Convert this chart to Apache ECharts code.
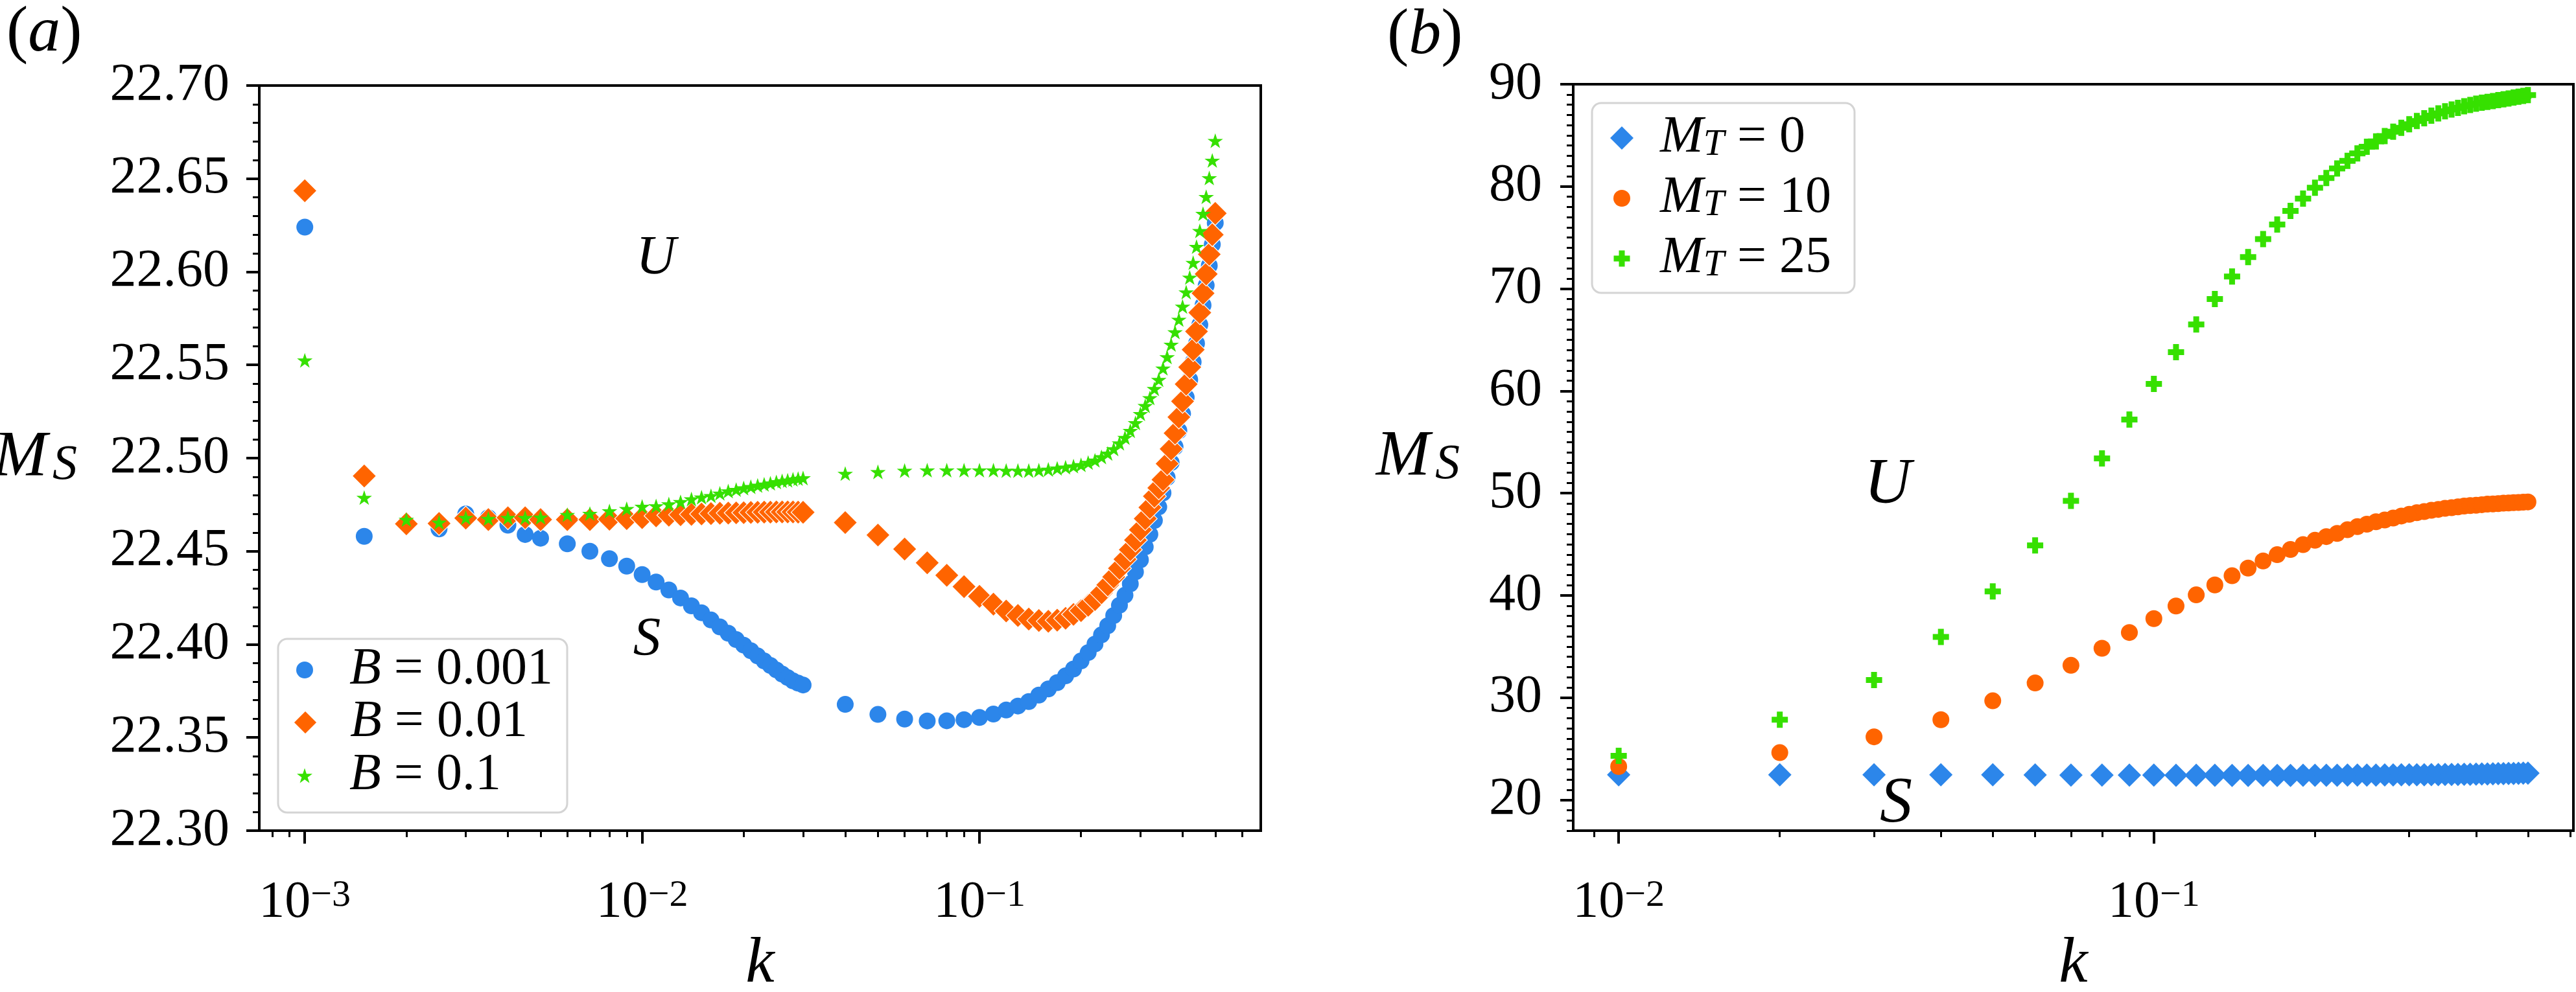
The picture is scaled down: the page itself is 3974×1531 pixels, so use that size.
<!DOCTYPE html>
<html>
<head>
<meta charset="utf-8">
<title>M_S against k</title>
<script src="https://cdn.jsdelivr.net/npm/echarts@6/dist/echarts.min.js"></script>
<style>
  html, body { margin: 0; padding: 0; background: #fff; }
  #chart { width: 3974px; height: 1531px; }
</style>
</head>
<body>
<div id="chart"></div>
<script>
// ---- panel (a): M_S against k for three values of B ----
var kA = [0.001, 0.0015, 0.002, 0.0025, 0.003, 0.0035, 0.004, 0.0045, 0.005,
  0.006, 0.007, 0.008, 0.009,
  0.010, 0.011, 0.012, 0.013, 0.014, 0.015, 0.016, 0.017, 0.018, 0.019, 0.020,
  0.021, 0.022, 0.023, 0.024, 0.025, 0.026, 0.027, 0.028, 0.029, 0.030,
  0.04, 0.05, 0.06, 0.07, 0.08, 0.09,
  0.10, 0.11, 0.12, 0.13, 0.14, 0.15, 0.16, 0.17, 0.18, 0.19, 0.20,
  0.21, 0.22, 0.23, 0.24, 0.25, 0.26, 0.27, 0.28, 0.29, 0.30,
  0.31, 0.32, 0.33, 0.34, 0.35, 0.36, 0.37, 0.38, 0.39, 0.40,
  0.41, 0.42, 0.43, 0.44, 0.45, 0.46, 0.47, 0.48, 0.49, 0.50];

var msB0001 = [22.624, 22.458, 22.465, 22.462, 22.470, 22.468, 22.464, 22.459, 22.457,
  22.454, 22.450, 22.446, 22.442,
  22.4375, 22.4335, 22.4292, 22.4249, 22.4207, 22.4170, 22.4131, 22.4094, 22.4060, 22.4026, 22.3996,
  22.3966, 22.3938, 22.3911, 22.3887, 22.3863, 22.3841, 22.3822, 22.3804, 22.3792, 22.3782,
  22.3678, 22.3624, 22.3599, 22.3589, 22.3590, 22.3596,
  22.3608, 22.3626, 22.3648, 22.3669, 22.3693, 22.3728, 22.3761, 22.3795, 22.3831, 22.3868, 22.3911,
  22.3956, 22.4002, 22.4051, 22.4100, 22.4155, 22.4210, 22.4264, 22.4325, 22.4389, 22.4454,
  22.4523, 22.4591, 22.4665, 22.4738, 22.4813, 22.4896, 22.4976, 22.5061, 22.5147, 22.5238,
  22.5326, 22.5421, 22.5516, 22.5616, 22.5716, 22.5821, 22.5927, 22.6033, 22.6147, 22.6263];

var msB001 = [22.6435, 22.4904, 22.4647, 22.4649, 22.4678, 22.4670, 22.4680, 22.4680, 22.4670,
  22.4670, 22.4670, 22.4672, 22.4675,
  22.4680, 22.4690, 22.4693, 22.4696, 22.4698, 22.4700, 22.4702, 22.4704, 22.4705, 22.4706, 22.4707,
  22.4708, 22.4709, 22.4710, 22.4710, 22.4711, 22.4711, 22.4711, 22.4711, 22.4710, 22.4709,
  22.4654, 22.4587, 22.4512, 22.4438, 22.4371, 22.4310,
  22.4258, 22.4216, 22.4179, 22.4155, 22.4136, 22.4128, 22.4124, 22.4130, 22.4140, 22.4161, 22.4181,
  22.4210, 22.4240, 22.4277, 22.4319, 22.4362, 22.4408, 22.4457, 22.4508, 22.4560, 22.4615,
  22.4675, 22.4735, 22.4795, 22.4840, 22.4884, 22.4970, 22.5049, 22.5134, 22.5220, 22.5305,
  22.5397, 22.5488, 22.5582, 22.5680, 22.5781, 22.5885, 22.5988, 22.6094, 22.6199, 22.6314];

var msB01 = [22.5525, 22.4788, 22.4670, 22.4655, 22.4680, 22.4675, 22.4680, 22.4680, 22.4682,
  22.4696, 22.4702, 22.4716, 22.4728,
  22.4740, 22.4743, 22.4753, 22.4765, 22.4780, 22.4790, 22.4798, 22.4811, 22.4823, 22.4831, 22.4839,
  22.4846, 22.4853, 22.4859, 22.4865, 22.4872, 22.4878, 22.4881, 22.4886, 22.4890, 22.4893,
  22.4917, 22.4926, 22.4933, 22.4935, 22.4935, 22.4935,
  22.4935, 22.4935, 22.4933, 22.4933, 22.4933, 22.4935, 22.4939, 22.4945, 22.4951, 22.4957, 22.4964,
  22.4976, 22.4988, 22.5006, 22.5025, 22.5049, 22.5080, 22.5110, 22.5147, 22.5189, 22.5238,
  22.5281, 22.5323, 22.5372, 22.5421, 22.5482, 22.5543, 22.5610, 22.5677, 22.5744, 22.5814,
  22.5891, 22.5970, 22.6049, 22.6135, 22.6220, 22.6312, 22.6403, 22.6504, 22.6598, 22.6704];

// ---- panel (b): M_S against k for three values of M_T ----
var kB = [0.01, 0.02, 0.03, 0.04, 0.05, 0.06, 0.07, 0.08, 0.09, 0.10,
  0.11, 0.12, 0.13, 0.14, 0.15, 0.16, 0.17, 0.18, 0.19, 0.20,
  0.21, 0.22, 0.23, 0.24, 0.25, 0.26, 0.27, 0.28, 0.29, 0.30,
  0.31, 0.32, 0.33, 0.34, 0.35, 0.36, 0.37, 0.38, 0.39, 0.40,
  0.41, 0.42, 0.43, 0.44, 0.45, 0.46, 0.47, 0.48, 0.49, 0.50];

var msMT0 = [22.47, 22.47, 22.47, 22.47, 22.46, 22.45, 22.44, 22.44, 22.43, 22.43,
  22.42, 22.42, 22.42, 22.41, 22.41, 22.41, 22.41, 22.41, 22.42, 22.42,
  22.42, 22.42, 22.43, 22.43, 22.44, 22.44, 22.45, 22.45, 22.46, 22.46,
  22.47, 22.47, 22.48, 22.48, 22.49, 22.50, 22.50, 22.51, 22.52, 22.53,
  22.54, 22.55, 22.56, 22.57, 22.58, 22.59, 22.60, 22.61, 22.62, 22.63];

var msMT10 = [23.27, 24.63, 26.18, 27.85, 29.70, 31.44, 33.17, 34.84, 36.38, 37.74,
  38.97, 40.06, 41.03, 41.93, 42.68, 43.38, 43.99, 44.50, 44.98, 45.40,
  45.76, 46.07, 46.43, 46.73, 46.97, 47.21, 47.38, 47.57, 47.77, 47.94,
  48.09, 48.21, 48.33, 48.42, 48.52, 48.59, 48.67, 48.74, 48.79, 48.83,
  48.88, 48.93, 48.95, 48.98, 49.03, 49.05, 49.08, 49.10, 49.12, 49.15];

var msMT25 = [24.32, 27.85, 31.74, 35.95, 40.40, 44.90, 49.25, 53.40, 57.20, 60.70,
  63.80, 66.50, 69.00, 71.20, 73.10, 74.85, 76.28, 77.61, 78.81, 79.87,
  80.82, 81.77, 82.51, 83.24, 83.88, 84.41, 84.93, 85.36, 85.74, 86.09,
  86.40, 86.68, 86.93, 87.15, 87.36, 87.53, 87.69, 87.84, 87.97, 88.10,
  88.19, 88.28, 88.36, 88.44, 88.52, 88.61, 88.70, 88.78, 88.86, 88.94];

// tick values
var xMajorA = [0.001, 0.01, 0.1];
var xMajorB = [0.01, 0.1];
var yMajorB = [20, 30, 40, 50, 60, 70, 80, 90];

var SERIF = 'Liberation Serif';
var BLUE = '#2c86ea', ORANGE = '#ff6400', GREEN = '#36e000';
var STAR = 'path://M50,0L61.23,34.55L97.55,34.55L68.17,55.9L79.39,90.45L50,69.1L20.61,90.45L31.83,55.9L2.45,34.55L38.77,34.55Z';
var PLUS = 'path://M32,0H68V32H100V68H68V100H32V68H0V32H32Z';

function pairs(xs, ys) {
  return xs.map(function (x, i) { return [x, ys[i]]; });
}

// matplotlib style minor ticks on a log axis: 2..9 x 10^n
function logMinor(lo, hi) {
  var out = [];
  for (var e = -4; e <= 0; e++) {
    for (var m = 2; m <= 9; m++) {
      var v = +(m * Math.pow(10, e)).toPrecision(3);
      if (v >= lo && v <= hi) out.push(v);
    }
  }
  return out;
}

function linMinor(lo, hi, step, major) {
  var out = [];
  for (var v = lo; v <= hi; v += step) {
    if (major.indexOf(v) < 0) out.push(v);
  }
  return out;
}

// 5% log margins like matplotlib
var xMinA = Math.pow(10, -3.13495), xMaxA = Math.pow(10, -0.16608);
var xMinB = Math.pow(10, -2.08495), xMaxB = Math.pow(10, -0.21608);

var powRich = {
  b: { fontFamily: SERIF, fontSize: 80, lineHeight: 80, padding: [12, 0, 0, 0], verticalAlign: 'bottom', color: '#000' },
  e: { fontFamily: SERIF, fontSize: 58, lineHeight: 58, verticalAlign: 'top', color: '#000' }
};
function powLabel(v) {
  var e = Math.round(Math.log10(v));
  return '{b|10}{e|\u2212' + (-e) + '}';
}

var nameRich = {
  m: { fontFamily: SERIF, fontStyle: 'italic', fontSize: 100, lineHeight: 100, verticalAlign: 'top', color: '#000' },
  s: { fontFamily: SERIF, fontStyle: 'italic', fontSize: 76, lineHeight: 76, padding: [46, 0, 0, 8], verticalAlign: 'bottom', color: '#000' }
};

var tickLine = { color: '#000', width: 4 };
var minorLine = { color: '#000', width: 3 };

function majorX(grid, min, max, major, name) {
  return {
    gridIndex: grid, type: 'log', logBase: 10, min: min, max: max, position: 'bottom',
    axisLine: { show: true, lineStyle: { color: '#000', width: 4 } },
    axisTick: { show: true, inside: false, length: 20, lineStyle: tickLine, customValues: major },
    axisLabel: { show: true, margin: 72, customValues: major, formatter: powLabel, rich: powRich },
    splitLine: { show: false },
    name: name, nameLocation: 'middle', nameGap: 138,
    nameTextStyle: { fontFamily: SERIF, fontStyle: 'italic', fontSize: 100, color: '#000' }
  };
}
function minorX(grid, min, max, ticks) {
  return {
    gridIndex: grid, type: 'log', logBase: 10, min: min, max: max, position: 'bottom',
    axisLine: { show: false },
    axisTick: { show: true, inside: false, length: 10, lineStyle: minorLine, customValues: ticks },
    axisLabel: { show: false },
    splitLine: { show: false }
  };
}

function richA(pad) {
  return {
    i: { fontFamily: SERIF, fontStyle: 'italic', fontSize: 80, lineHeight: 90, padding: [0, 0, 0, pad], color: '#000' },
    n: { fontFamily: SERIF, fontSize: 80, lineHeight: 90, color: '#000' }
  };
}
function richB(pad) {
  return {
    i: { fontFamily: SERIF, fontStyle: 'italic', fontSize: 80, lineHeight: 80, padding: [0, 0, 0, pad], verticalAlign: 'top', color: '#000' },
    s: { fontFamily: SERIF, fontStyle: 'italic', fontSize: 58, lineHeight: 58, padding: [38, 0, 0, 0], verticalAlign: 'bottom', color: '#000' },
    n: { fontFamily: SERIF, fontSize: 80, lineHeight: 80, verticalAlign: 'top', color: '#000' }
  };
}
var legendText = {
  'B = 0.001': '{i|B}{n| = 0.001}',
  'B = 0.01': '{i|B}{n| = 0.01}',
  'B = 0.1': '{i|B}{n| = 0.1}',
  'MT = 0': '{i|M}{s|T}{n| = 0}',
  'MT = 10': '{i|M}{s|T}{n| = 10}',
  'MT = 25': '{i|M}{s|T}{n| = 25}'
};
// one legend per entry so every marker keeps its own size
function oneLegend(name, icon, size, cx, cy, textX, rich, lineH) {
  return {
    data: [{ name: name, icon: icon }],
    left: cx - size / 2, top: cy - lineH / 2, orient: 'vertical', padding: 0,
    itemWidth: size, itemHeight: size, selectedMode: false, symbolKeepAspect: true,
    formatter: function (n) { return legendText[n]; },
    textStyle: { fontFamily: SERIF, rich: rich(textX - (cx + size / 2 + 5)) }
  };
}

var chart = echarts.init(document.getElementById('chart'));

var option = {
  animation: false,
  backgroundColor: '#fff',
  textStyle: { fontFamily: SERIF },
  grid: [
    { left: 400, top: 132, width: 1545, height: 1150, outerBoundsMode: 'none', containLabel: false,
      show: true, borderColor: '#000', borderWidth: 4, backgroundColor: 'transparent' },
    { left: 2427, top: 130, width: 1543, height: 1152, outerBoundsMode: 'none', containLabel: false,
      show: true, borderColor: '#000', borderWidth: 4, backgroundColor: 'transparent' }
  ],
  xAxis: [
    majorX(0, xMinA, xMaxA, xMajorA, 'k'),
    minorX(0, xMinA, xMaxA, logMinor(xMinA, xMaxA)),
    majorX(1, xMinB, xMaxB, xMajorB, 'k'),
    minorX(1, xMinB, xMaxB, logMinor(xMinB, xMaxB))
  ],
  yAxis: [
    {
      gridIndex: 0, type: 'value', min: 22.3, max: 22.7, interval: 0.05, position: 'left',
      axisLine: { show: true, lineStyle: { color: '#000', width: 4 } },
      axisTick: { show: true, inside: false, length: 20, lineStyle: tickLine },
      minorTick: { show: true, splitNumber: 5, length: 10, lineStyle: minorLine },
      axisLabel: {
        margin: 46, color: '#000', fontFamily: SERIF, fontSize: 82,
        formatter: function (v) { return v.toFixed(2); }
      },
      splitLine: { show: false }, minorSplitLine: { show: false },
      name: '{m|M}{s|S}', nameLocation: 'middle', nameRotate: 0, nameGap: 281,
      nameTextStyle: { rich: nameRich }
    },
    {
      gridIndex: 1, type: 'value', min: 17, max: 90, position: 'left',
      axisLine: { show: true, lineStyle: { color: '#000', width: 4 } },
      axisTick: { show: true, inside: false, length: 20, lineStyle: tickLine, customValues: yMajorB },
      axisLabel: { margin: 48, color: '#000', fontFamily: SERIF, fontSize: 82, customValues: yMajorB },
      splitLine: { show: false },
      name: '{m|M}{s|S}', nameLocation: 'middle', nameRotate: 0, nameGap: 175,
      nameTextStyle: { rich: nameRich }
    },
    {
      gridIndex: 1, type: 'value', min: 17, max: 90, position: 'left',
      axisLine: { show: false },
      axisTick: { show: true, inside: false, length: 10, lineStyle: minorLine, customValues: linMinor(17, 89, 1, yMajorB) },
      axisLabel: { show: false },
      splitLine: { show: false }
    }
  ],
  legend: [
    oneLegend('B = 0.001', 'circle', 26, 470, 1039, 539, richA, 90),
    oneLegend('B = 0.01', 'diamond', 37, 470, 1120, 539, richA, 90),
    oneLegend('B = 0.1', STAR, 24, 470, 1202, 539, richA, 90),
    oneLegend('MT = 0', 'diamond', 36, 2502, 205, 2561, richB, 96),
    oneLegend('MT = 10', 'circle', 26, 2502, 298, 2561, richB, 96),
    oneLegend('MT = 25', PLUS, 25, 2502, 391, 2561, richB, 96)
  ],
  graphic: [
    { type: 'rect', z: 3, shape: { x: 429, y: 986, width: 446, height: 268, r: 14 },
      style: { fill: 'rgba(255,255,255,0.8)', stroke: '#d4d4d4', lineWidth: 3 } },
    { type: 'rect', z: 3, shape: { x: 2456, y: 159, width: 405, height: 293, r: 14 },
      style: { fill: 'rgba(255,255,255,0.8)', stroke: '#d4d4d4', lineWidth: 3 } },
    { type: 'text', z: 5, style: { x: 10, y: 2, text: '({i|a})', fontFamily: SERIF, fontSize: 100, fill: '#000',
      rich: { i: { fontFamily: SERIF, fontStyle: 'italic', fontSize: 100 } } } },
    { type: 'text', z: 5, style: { x: 2140, y: 6, text: '({i|b})', fontFamily: SERIF, fontSize: 100, fill: '#000',
      rich: { i: { fontFamily: SERIF, fontStyle: 'italic', fontSize: 100 } } } },
    { type: 'text', z: 5, style: { x: 1012, y: 400, text: 'U', align: 'center', verticalAlign: 'middle',
      fontFamily: SERIF, fontStyle: 'italic', fontSize: 85, fill: '#000' } },
    { type: 'text', z: 5, style: { x: 998, y: 989, text: 'S', align: 'center', verticalAlign: 'middle',
      fontFamily: SERIF, fontStyle: 'italic', fontSize: 85, fill: '#000' } },
    { type: 'text', z: 5, style: { x: 2912, y: 749, text: 'U', align: 'center', verticalAlign: 'middle',
      fontFamily: SERIF, fontStyle: 'italic', fontSize: 100, fill: '#000' } },
    { type: 'text', z: 5, style: { x: 2925, y: 1241, text: 'S', align: 'center', verticalAlign: 'middle',
      fontFamily: SERIF, fontStyle: 'italic', fontSize: 100, fill: '#000' } }
  ],
  series: [
    { name: 'B = 0.001', type: 'scatter', xAxisIndex: 0, yAxisIndex: 0, data: pairs(kA, msB0001),
      symbol: 'circle', symbolSize: 26, itemStyle: { color: BLUE, opacity: 1 } },
    { name: 'B = 0.01', type: 'scatter', xAxisIndex: 0, yAxisIndex: 0, data: pairs(kA, msB001),
      symbol: 'diamond', symbolSize: 37, itemStyle: { color: ORANGE, opacity: 1, borderColor: '#fff', borderWidth: 1.2 } },
    { name: 'B = 0.1', type: 'scatter', xAxisIndex: 0, yAxisIndex: 0, data: pairs(kA, msB01),
      symbol: STAR, symbolSize: 24, symbolKeepAspect: true, itemStyle: { color: GREEN, opacity: 1 } },
    { name: 'MT = 0', type: 'scatter', xAxisIndex: 2, yAxisIndex: 1, data: pairs(kB, msMT0),
      symbol: 'diamond', symbolSize: 36, itemStyle: { color: BLUE, opacity: 1 } },
    { name: 'MT = 10', type: 'scatter', xAxisIndex: 2, yAxisIndex: 1, data: pairs(kB, msMT10),
      symbol: 'circle', symbolSize: 26, itemStyle: { color: ORANGE, opacity: 1 } },
    { name: 'MT = 25', type: 'scatter', xAxisIndex: 2, yAxisIndex: 1, data: pairs(kB, msMT25),
      symbol: PLUS, symbolSize: 25, itemStyle: { color: GREEN, opacity: 1 } }
  ]
};

chart.setOption(option);
</script>
</body>
</html>
